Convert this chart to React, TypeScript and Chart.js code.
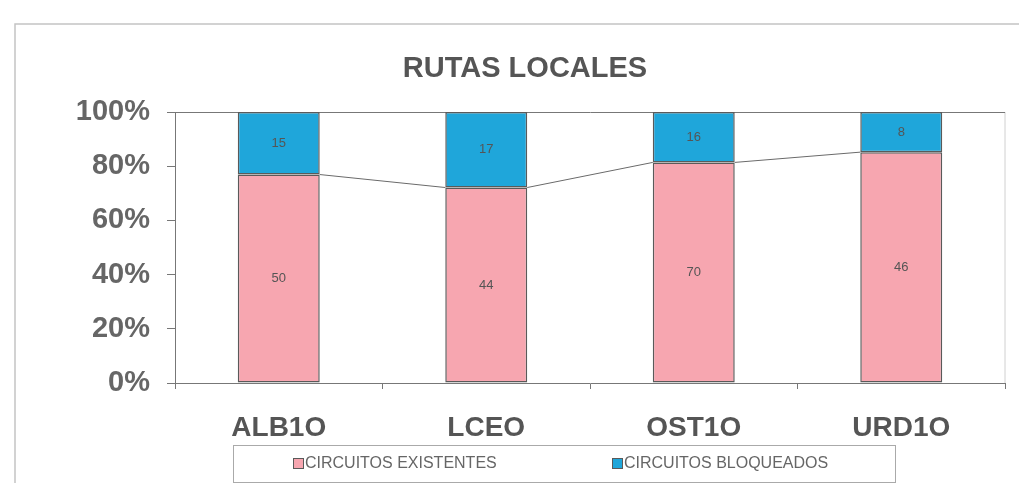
import React, { useEffect, useRef } from "react";
import { Chart, registerables } from "chart.js";

Chart.register(...registerables);

const TITLE = "RUTAS LOCALES";
const CATEGORIES = ["ALB1O", "LCEO", "OST1O", "URD1O"];
const EXISTENTES = [50, 44, 70, 46];
const BLOQUEADOS = [15, 17, 16, 8];
const SERIES_NAMES = ["CIRCUITOS EXISTENTES", "CIRCUITOS BLOQUEADOS"];
const Y_TICKS = [0, 20, 40, 60, 80, 100];

const PINK = "#F7A6B0";
const BLUE = "#1FA6DA";
const EDGE = "#5a5a5a";
const FONT = "'Liberation Sans', Arial, sans-serif";

const RAW = [EXISTENTES, BLOQUEADOS];
const toPct = (arr: number[]) =>
  arr.map((v, i) => (v / (EXISTENTES[i] + BLOQUEADOS[i])) * 100);

const decorPlugin = {
  id: "decor",
  beforeDraw(chart: any) {
    const { ctx, chartArea } = chart;
    ctx.save();
    // outer frame
    ctx.strokeStyle = "#c4c4c4";
    ctx.lineWidth = 1.5;
    ctx.beginPath();
    ctx.moveTo(7, chart.height);
    ctx.lineTo(7, 16);
    ctx.lineTo(chart.width, 16);
    ctx.stroke();
    // right border of plot area
    ctx.strokeStyle = "#d0d0d0";
    ctx.lineWidth = 1;
    ctx.beginPath();
    ctx.moveTo(chartArea.right, chartArea.top);
    ctx.lineTo(chartArea.right, chartArea.bottom);
    ctx.stroke();
    // title
    ctx.fillStyle = "#555";
    ctx.font = "bold 29px " + FONT;
    ctx.textAlign = "center";
    ctx.textBaseline = "middle";
    ctx.fillText(TITLE, 517, 61);
    ctx.restore();
  },
  afterDatasetsDraw(chart: any) {
    const { ctx } = chart;
    ctx.save();
    // series lines between tops of first series
    const m0 = chart.getDatasetMeta(0);
    ctx.strokeStyle = "#6a6a6a";
    ctx.lineWidth = 1;
    for (let i = 0; i < m0.data.length - 1; i++) {
      const a = m0.data[i];
      const b = m0.data[i + 1];
      ctx.beginPath();
      ctx.moveTo(a.x + a.width / 2, a.y);
      ctx.lineTo(b.x - b.width / 2, b.y);
      ctx.stroke();
    }
    // value labels
    ctx.fillStyle = "#555";
    ctx.font = "13px " + FONT;
    ctx.textAlign = "center";
    ctx.textBaseline = "middle";
    chart.data.datasets.forEach((ds: any, di: number) => {
      const meta = chart.getDatasetMeta(di);
      meta.data.forEach((el: any, i: number) => {
        ctx.fillText(String(RAW[di][i]), el.x, (el.y + el.base) / 2);
      });
    });
    // legend
    ctx.strokeStyle = "#aaa";
    ctx.lineWidth = 1;
    ctx.strokeRect(225.5, 437.5, 662, 37);
    ctx.font = "16px " + FONT;
    ctx.textAlign = "left";
    const xs = [285, 604];
    chart.data.datasets.forEach((ds: any, di: number) => {
      ctx.fillStyle = ds.backgroundColor;
      ctx.fillRect(xs[di], 450, 10, 10);
      ctx.strokeStyle = EDGE;
      ctx.strokeRect(xs[di] + 0.5, 450.5, 10, 10);
      ctx.fillStyle = "#666";
      ctx.fillText(ds.label, xs[di] + 12, 455.5);
    });
    ctx.restore();
  },
};

export default function App() {
  const ref = useRef<HTMLCanvasElement | null>(null);
  useEffect(() => {
    if (!ref.current) return;
    const chart = new Chart(ref.current, {
      type: "bar",
      data: {
        labels: CATEGORIES,
        datasets: [
          {
            label: SERIES_NAMES[0],
            data: toPct(EXISTENTES),
            backgroundColor: PINK,
            borderColor: EDGE,
            borderWidth: 1.5,
            borderSkipped: false,
          },
          {
            label: SERIES_NAMES[1],
            data: toPct(BLOQUEADOS),
            backgroundColor: BLUE,
            borderColor: EDGE,
            borderWidth: 1.5,
            borderSkipped: false,
          },
        ],
      },
      options: {
        animation: false,
        responsive: false,
        maintainAspectRatio: false,
        layout: { padding: { left: 0, right: 14, top: 104, bottom: 40 } },
        datasets: {
          bar: { categoryPercentage: 1, barPercentage: 0.395 },
        },
        plugins: {
          legend: { display: false },
          title: { display: false },
          tooltip: { enabled: false },
        },
        scales: {
          x: {
            stacked: true,
            afterFit: (s: any) => {
              s.height = 60;
            },
            grid: {
              offset: true,
              drawOnChartArea: false,
              tickLength: 6,
              color: "#777",
            },
            border: { display: true, color: "#777" },
            ticks: {
              padding: 22,
              color: "#555",
              font: { family: FONT, size: 28, weight: "bold" },
            },
          },
          y: {
            stacked: true,
            min: 0,
            max: 100,
            afterFit: (s: any) => {
              s.width = 167;
            },
            afterBuildTicks: (s: any) => {
              s.ticks = Y_TICKS.map((v) => ({ value: v }));
            },
            grid: {
              drawOnChartArea: true,
              tickLength: 8,
              color: (c: any) => (c.tick && c.tick.value === 100 ? "#777" : "transparent"),
              tickColor: "#777",
            },
            border: { display: true, color: "#777" },
            ticks: {
              padding: 17,
              color: "#666",
              callback: (v: any) => v + "%",
              font: { family: FONT, size: 29, weight: "bold" },
            },
          },
        },
      },
      plugins: [decorPlugin],
    });
    return () => chart.destroy();
  }, []);
  return (
    <div style={{ width: 1011, height: 475 }}>
      <canvas ref={ref} width={1011} height={475} style={{ display: "block" }} />
    </div>
  );
}
